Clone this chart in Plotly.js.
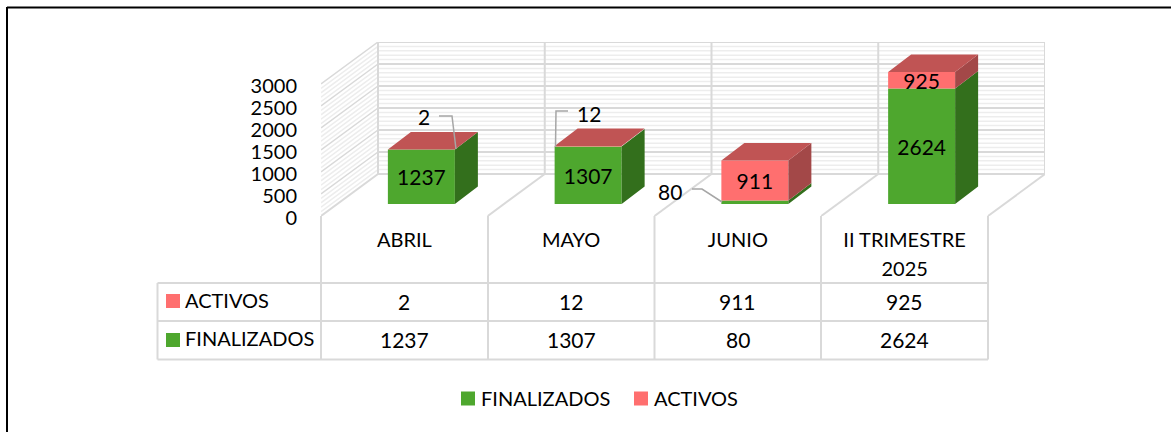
<!DOCTYPE html>
<html>
<head>
<meta charset="utf-8">
<script src="https://cdn.plot.ly/plotly-3.0.1.min.js"></script>
<style>html,body{margin:0;padding:0;background:#fff}</style>
</head>
<body>
<div id="chart" style="width:1171px;height:432px"></div>
<script>
const categories = ['ABRIL', 'MAYO', 'JUNIO', 'II TRIMESTRE<br>2025'];
const finalizados = [1237, 1307, 80, 2624];
const activos = [2, 12, 911, 925];
const axisMax = 3000;
const yTicks = [0, 500, 1000, 1500, 2000, 2500, 3000];

const FONT = 'Lato, "Open Sans", sans-serif', FS = 20, FS_NUM = 21;
const GREEN = '#4ea72e', GREEN_D = '#336f1c', RED = '#ff6f6f', RED_T = '#c05454', RED_D = '#a34848';
const GRID = '#d9d9d9', MINOR = '#ededed', LEAD = '#a6a6a6';

// frame of the plot area, in page pixels
const L = 321, R = 1045, T = 42, B = 216, W = 1171, H = 432;
const pxPerUnit = 0.044, pxPerCat = 166.75;
const u = p => p / pxPerUnit, c = p => p / pxPerCat;
const xRange = [-0.5, -0.5 + c(R - L)], yRange = [0, u(B - T)];
const wallDx = c(57), wallDy = u(42);          // depth of the walls
const barDx = c(17), barBase = u(12);          // where the bar front sits
const sideDx = c(23), sideDy = u(17.5);        // bar depth
const barW = c(67);
const dataX = p => xRange[0] + c(p - L), dataY = p => u(B - p);
const paperX = p => (p - L) / (R - L), paperY = p => (B - p) / (B - T);

// ---- walls and floor, from the axis scale
const shapes = [];
const seg = (x0, y0, x1, y1, color, width) => shapes.push({type:'line', layer:'below', xref:'x', yref:'y', x0, y0, x1, y1, line:{color, width}});
const backL = -0.5 + wallDx, backR = 3.5 + wallDx;
for (let v = 100; v < axisMax; v += 100) {
  if (v % 500 === 0) continue;
  seg(-0.5, v, backL, v + wallDy, MINOR, 1.5);
  seg(backL, v + wallDy, backR, v + wallDy, MINOR, 1.5);
}
yTicks.slice(1).forEach(v => {
  seg(-0.5, v, backL, v + wallDy, GRID, 1.5);
  seg(backL, v + wallDy, backR, v + wallDy, GRID, 2);
});
seg(backL, wallDy, backR, wallDy, GRID, 2);
categories.concat(['']).forEach((_, k) => {
  seg(k - 0.5, 0, k - 0.5 + wallDx, wallDy, GRID, 2);
  seg(k - 0.5 + wallDx, wallDy, k - 0.5 + wallDx, axisMax + wallDy, GRID, 2);
});

// ---- data table grid and outer frame
const pline = (x0, y0, x1, y1, color, width) => shapes.push({type:'line', layer:'below', xref:'paper', yref:'paper',
  x0: paperX(x0), y0: paperY(y0), x1: paperX(x1), y1: paperY(y1), line:{color, width}});
const rowLines = [283, 321, 359.5], colLines = [321, 488, 654.5, 821, 988];
rowLines.forEach(y => pline(157.5, y, 988, y, GRID, 2));
pline(157.5, 283, 157.5, 359.5, GRID, 2);
colLines.forEach(x => pline(x, 216, x, 359.5, GRID, 2));
pline(7, 7.5, W, 7.5, '#000', 2);
pline(7, 7, 7, H, '#000', 2);
const swatch = (x, y, color) => shapes.push({type:'rect', layer:'above', xref:'paper', yref:'paper',
  x0: paperX(x), x1: paperX(x + 14), y0: paperY(y), y1: paperY(y + 14), fillcolor: color, line:{width:0}});
swatch(166, 294, RED);
swatch(166, 333, GREEN);

// ---- text
const annotations = [];
const txt = (text, x, xref, y, xanchor, size) => annotations.push({text: String(text), x, xref, y: paperY(y), yref:'paper',
  xanchor: xanchor || 'center', yanchor:'middle', showarrow:false, font:{family:FONT, size:size || FS_NUM, color:'#000'}});
const rowY = {activos: 301.5, finalizados: 339};
txt('ACTIVOS', paperX(182.5), 'paper', rowY.activos - 1.5, 'left', FS);
txt('FINALIZADOS', paperX(182.5), 'paper', rowY.finalizados - 1, 'left', FS);
activos.forEach((v, i) => txt(v, i, 'x', rowY.activos));
finalizados.forEach((v, i) => txt(v, i, 'x', rowY.finalizados));

// ---- 3D faces of the bars
const capped = activos.map((v, i) => Math.min(v, axisMax - finalizados[i]));
const xs = i => i + barDx;
function face(getPts) {
  const x = [], y = [];
  categories.forEach((_, i) => { getPts(i).forEach(p => { x.push(p[0]); y.push(p[1]); }); x.push(null); y.push(null); });
  return {x, y};
}
const side = (i, v0, v1) => {
  const r = xs(i) + barW / 2, a = barBase + v0, b = barBase + v1;
  return [[r, a], [r + sideDx, a + sideDy], [r + sideDx, b + sideDy], [r, b], [r, a]];
};
const top3d = i => {
  const l = xs(i) - barW / 2, r = xs(i) + barW / 2, t = barBase + finalizados[i] + capped[i];
  return [[l, t], [r, t], [r + sideDx, t + sideDy], [l + sideDx, t + sideDy], [l, t]];
};
const poly = (pts, color) => Object.assign({type:'scatter', mode:'lines', fill:'toself', fillcolor:color,
  line:{width:0, color}, hoverinfo:'skip', showlegend:false, connectgaps:false}, pts);

const minInside = 500;
const barLabel = vals => vals.map(v => v >= minInside ? String(v) : '');
const traces = [
  {type:'bar', name:'FINALIZADOS', x: categories.map((_, i) => xs(i)), y: finalizados, base: finalizados.map(() => barBase),
   width: barW, marker:{color:GREEN, line:{width:0}}, text: barLabel(finalizados), textposition:'inside', insidetextanchor:'middle',
   textangle:0, constraintext:'none', textfont:{family:FONT, size:FS_NUM, color:'#000'}, cliponaxis:false},
  {type:'bar', name:'ACTIVOS', x: categories.map((_, i) => xs(i)), y: capped, base: finalizados.map(v => barBase + v),
   width: barW, marker:{color:RED, line:{width:0}}, text: barLabel(activos), textposition:'inside', insidetextanchor:'middle',
   textangle:0, constraintext:'none', textfont:{family:FONT, size:FS_NUM, color:'#000'}, cliponaxis:false},
  poly(face(i => side(i, 0, finalizados[i])), GREEN_D),
  poly(face(i => side(i, finalizados[i], finalizados[i] + capped[i])), RED_D),
  poly(face(top3d), RED_T)
];

// ---- leader-line labels for the values too small to hold their label
const leaders = [
  {v: activos[0],     at: [424, 116], path: [[439, 116], [452, 116], [456, 149]]},
  {v: activos[1],     at: [589, 113], path: [[568, 111], [556, 111], [555.5, 147]]},
  {v: finalizados[2], at: [670, 191], path: [[692, 189], [702, 189], [722, 202]]}
];
leaders.forEach(d => {
  traces.push({type:'scatter', mode:'lines', x: d.path.map(p => dataX(p[0])), y: d.path.map(p => dataY(p[1])),
    line:{color:LEAD, width:1.5}, hoverinfo:'skip', showlegend:false});
  txt(d.v, dataX(d.at[0]), 'x', d.at[1]);
});

const layout = {
  width: W, height: H, paper_bgcolor:'#fff', plot_bgcolor:'rgba(0,0,0,0)',
  margin:{l:L, r:W - R, t:T, b:H - B, pad:0},
  barmode:'overlay', showlegend:true, hovermode:false,
  font:{family:FONT, size:FS, color:'#000'},
  xaxis:{range:xRange, tickmode:'array', tickvals:categories.map((_, i) => i), ticktext:categories,
    showgrid:false, zeroline:false, showline:false, ticks:'outside', ticklen:6, tickcolor:'rgba(0,0,0,0)',
    tickangle:0, tickfont:{family:FONT, size:FS, color:'#000'}},
  yaxis:{range:yRange, tickmode:'array', tickvals:yTicks, showgrid:false, zeroline:false, showline:false,
    ticks:'outside', ticklen:19, tickcolor:'rgba(0,0,0,0)', tickfont:{family:FONT, size:FS, color:'#000'}},
  legend:{orientation:'h', xref:'container', yref:'container', x:441 / W, xanchor:'left', y:1 - 379 / H, yanchor:'top', traceorder:'normal',
    entrywidth:128, entrywidthmode:'pixels', borderwidth:0, bgcolor:'rgba(0,0,0,0)', font:{family:FONT, size:FS, color:'#000'}},
  shapes, annotations
};
Plotly.newPlot('chart', traces, layout, {displayModeBar:false, staticPlot:true}).then(() => {
  // legend keys: 14 px squares set close to their text
  document.querySelectorAll('.legend .legendpoints').forEach(g => g.setAttribute('transform', 'translate(7,0)'));
  document.querySelectorAll('.legend .legendundefined, .legend .legendbar path, .legend .legendpoints path').forEach(p => p.setAttribute('d', 'M7,7H-7V-7H7Z'));
  // the reference sets the two-line category label with wider leading
  document.querySelectorAll('.xtick text tspan.line').forEach(t => { if (t.getAttribute('dy') && t.getAttribute('dy') !== '0em') t.setAttribute('dy', '29px'); });
  // nudge the value-axis labels to the reference's baseline
  document.querySelectorAll('.ytick text').forEach(t => t.setAttribute('dy', '2'));
});
</script>
</body>
</html>
